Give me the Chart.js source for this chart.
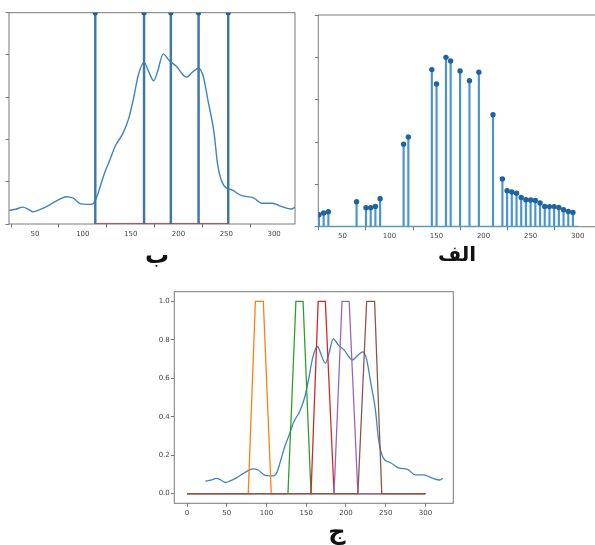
<!DOCTYPE html>
<html><head><meta charset="utf-8">
<script src="https://cdn.jsdelivr.net/npm/chart.js@4.4.1/dist/chart.umd.min.js"></script>
<style>
html,body{margin:0;padding:0;background:#fff;overflow:hidden;width:595px;height:545px;}
canvas{position:absolute;}
.lbl{position:absolute;font-family:"DejaVu Sans",sans-serif;font-weight:bold;font-size:20px;color:#111;transform:translate(-50%,-50%);white-space:nowrap;direction:rtl;line-height:1.4;z-index:5;}
</style></head><body>
<canvas id="cB" width="300" height="240" style="left:0;top:0"></canvas>
<canvas id="cA" width="300" height="240" style="left:300px;top:0"></canvas>
<canvas id="cJ" width="320" height="260" style="left:140px;top:285px"></canvas>
<div class="lbl" style="left:157px;top:256px;font-size:24px">ب</div>
<div class="lbl" style="left:457px;top:254px">الف</div>
<div class="lbl" style="left:337px;top:532px;font-size:24px">ج</div>
<script>
// ---- data ----
const curveX = [23,30,37,43,48,55,62,70,77,83,90,98,104,109,113,118,123,128,134,142,148,153,158,164,169,174,178,184,190,198,208,215,221,226,231,237,241,247,256,266,278,287,298,308,318,322];
const curveY = [0.065,0.07,0.08,0.07,0.058,0.068,0.082,0.103,0.12,0.129,0.122,0.095,0.093,0.093,0.11,0.175,0.245,0.3,0.37,0.43,0.5,0.595,0.705,0.765,0.72,0.678,0.72,0.805,0.775,0.745,0.695,0.72,0.737,0.697,0.58,0.437,0.28,0.185,0.161,0.134,0.125,0.098,0.098,0.082,0.071,0.08];

const stemAX = [25,30,35,65,75,80,85,90,115,120,145,150,160,165,175,185,195,210,220,225,230,235,240,245,250,255,260,265,270,275,280,285,290,295];
const stemAY = [0.057,0.065,0.071,0.118,0.09,0.09,0.096,0.132,0.39,0.424,0.742,0.674,0.80,0.783,0.736,0.69,0.73,0.529,0.225,0.17,0.164,0.158,0.138,0.127,0.126,0.124,0.112,0.096,0.095,0.095,0.091,0.08,0.072,0.067];

const stemBX = [113,164,192,221,252];
const stemBY = [1,1,1,1,1];

const trapOrange = [77,86,96,106];
const trapGreen  = [127,137,146,156];
const trapRed    = [156,165,174,185];
const trapPurple = [185,195,204,215];
const trapBrown  = [215,226,236,245];
const trapRange  = [0,300];

const xTicks = [50,100,150,200,250,300];
const xTicksJ = [0,50,100,150,200,250,300];
const yTicks = [0,0.2,0.4,0.6,0.8,1.0];

// ---- helpers ----
const FONT = {family:'"DejaVu Sans", sans-serif', size:7};
const TICKC = '#444';
const frame = {id:'frame', beforeDatasetsDraw(c){
  const a=c.chartArea, x=c.ctx; x.save(); x.strokeStyle='#7a7a7a'; x.lineWidth=1;
  x.strokeRect(a.left, a.top, a.right-a.left, a.bottom-a.top); x.restore();}};
function pts(xs, ys){ return xs.map((v,i)=>({x:v, y:ys[i]})); }
function trap(p){ return [{x:trapRange[0],y:0},{x:p[0],y:0},{x:p[1],y:1},{x:p[2],y:1},{x:p[3],y:0},{x:trapRange[1],y:0}]; }
function xScale(min,max,ticks,h,showLabels=true){
  return {type:'linear', min, max, offset:false,
    afterBuildTicks:s=>{s.ticks=ticks.map(v=>({value:v}));},
    afterFit:s=>{s.height=h;},
    ticks:{display:showLabels, font:FONT, color:TICKC, padding:2, maxRotation:0, autoSkip:false},
    grid:{drawOnChartArea:false, drawTicks:true, tickLength:3.5, color:'#555', lineWidth:0.8},
    border:{display:false}};
}
function yScale(min,max,w,showLabels){
  return {type:'linear', min, max,
    afterBuildTicks:s=>{s.ticks=yTicks.map(v=>({value:v}));},
    afterFit:s=>{s.width=w;},
    ticks:{display:showLabels, font:FONT, color:TICKC, padding:1, callback:v=>Number(v).toFixed(1)},
    grid:{drawOnChartArea:false, drawTicks:true, tickLength:3.5, color:'#555', lineWidth:0.8},
    border:{display:false}};
}
const common = {responsive:false, animation:false, events:[],
  plugins:{legend:{display:false}, tooltip:{enabled:false}, title:{display:false}}};

// ---- ب ----
new Chart(document.getElementById('cB'), {
  type:'bar',
  data:{datasets:[
    {type:'line', data:pts(stemBX, stemBY), showLine:false, pointRadius:2.6, pointBackgroundColor:'#1f5f96', pointBorderWidth:0, clip:0, order:0},
    {type:'line', data:[{x:stemBX[0],y:0},{x:stemBX[stemBX.length-1],y:0}], borderColor:'#d62728', borderWidth:1.5, pointRadius:0, order:1},
    {type:'bar', data:pts(stemBX, stemBY), backgroundColor:'#3f77a8', barThickness:1.8, borderWidth:0, order:2},
    {type:'line', data:pts(curveX, curveY), borderColor:'#3f84c0', borderWidth:1.4, pointRadius:0, tension:0.4, cubicInterpolationMode:'monotone', order:3}
  ]},
  options:Object.assign({}, common, {
    layout:{padding:{top:12.7,right:5,left:0,bottom:0}},
    scales:{x:xScale(22.8,321.8,xTicks,16), y:yScale(0,1,9,false)}
  }),
  plugins:[frame]
});

// ---- الف ----
new Chart(document.getElementById('cA'), {
  type:'bar',
  data:{datasets:[
    {type:'line', data:pts(stemAX, stemAY), showLine:false, pointRadius:2.7, pointBackgroundColor:'#1f64a0', pointBorderWidth:0, order:0},
    {type:'line', data:[{x:stemAX[0],y:0},{x:300,y:0}], borderColor:'#3fa0d8', borderWidth:2, pointRadius:0, order:1},
    {type:'bar', data:pts(stemAX, stemAY), backgroundColor:'#4b94d2', barThickness:1.5, borderWidth:0, order:2}
  ]},
  options:Object.assign({}, common, {
    layout:{padding:{top:15,right:1,left:0,bottom:0}},
    scales:{x:xScale(24.3,319.5,xTicks,13.3), y:yScale(0,1,18.3,false)}
  }),
  plugins:[frame]
});

// ---- ج ----
new Chart(document.getElementById('cJ'), {
  type:'line',
  data:{datasets:[
    {data:trap(trapBrown),  borderColor:'#8c564b', borderWidth:1.3, pointRadius:0, order:0},
    {data:trap(trapPurple), borderColor:'#9467bd', borderWidth:1.3, pointRadius:0, order:1},
    {data:trap(trapRed),    borderColor:'#d62728', borderWidth:1.3, pointRadius:0, order:2},
    {data:trap(trapGreen),  borderColor:'#2ca02c', borderWidth:1.3, pointRadius:0, order:3},
    {data:trap(trapOrange), borderColor:'#ff7f0e', borderWidth:1.3, pointRadius:0, order:4},
    {data:pts(curveX, curveY), borderColor:'#3f84c0', borderWidth:1.3, pointRadius:0, tension:0.4, cubicInterpolationMode:'monotone', order:5}
  ]},
  options:Object.assign({}, common, {
    layout:{padding:{top:6.7,right:6.7,left:0,bottom:0}},
    scales:{x:xScale(-16,335,xTicksJ,41.7), y:yScale(-0.05,1.05,34.3,true)}
  }),
  plugins:[frame]
});
</script>
</body></html>
